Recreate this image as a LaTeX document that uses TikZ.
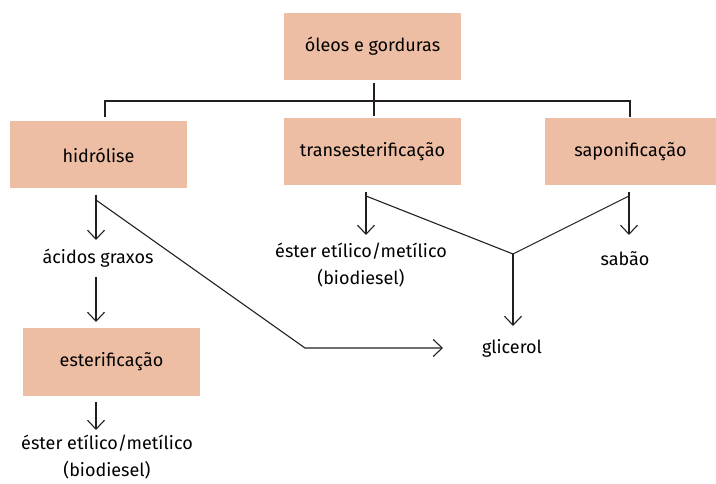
\documentclass[tikz,border=0pt]{standalone}
\usepackage{fontspec}
\setmainfont{Fira Sans}
\usetikzlibrary{arrows.meta}
\definecolor{boxfill}{RGB}{237,190,164}
\definecolor{linecol}{RGB}{35,31,32}
\begin{document}
\begin{tikzpicture}[x=1pt,y=-1pt,
  procbox/.style={fill=boxfill,draw=none,minimum width=177pt,minimum height=67pt,inner sep=0pt,font=\fontsize{18}{22}\selectfont},
  label/.style={inner sep=0pt,align=center,font=\fontsize{18}{27}\selectfont},
  conn/.style={draw=linecol,line width=1.1pt},
  arr/.style={conn,-{Straight Barb[length=9pt,width=17pt,line width=1.1pt]}}]
\useasboundingbox (0,0) rectangle (716,484);
\node[procbox] (oleos) at (372.5,46.5) {óleos e gorduras};
\node[procbox] (hidro) at (98.5,155) {hidrólise};
\node[procbox] (trans) at (372.5,151.5) {transesterificação};
\node[procbox, minimum width=171pt] (sapo) at (630.5,151.5) {saponificação};
\node[procbox] (ester) at (111.5,362) {esterificação};
\node[label] (acidos) at (98,258) {ácidos graxos};
\node[label] (bio1) at (107,457) {éster etílico/metílico\\(biodiesel)};
\node[label] (bio2) at (361,265) {éster etílico/metílico\\(biodiesel)};
\node[label] (sabao) at (625,259) {sabão};
\node[label] (glic) at (512,348) {glicerol};
% top tree
\coordinate (tl) at (105,101);
\coordinate (tr) at (630,101);
\draw[conn] (oleos.south -| 374,0) ++(0,3) -- (374,116);
\draw[conn] (105,117) -- (tl) -- (tr) -- (630,117);
% hidrolise
\coordinate (h0) at (96,195);
\draw[arr] (h0) -- (96,240);
\draw[arr] (96,277) -- (96,322);
\draw[arr] (96,402) -- (96,430);
\coordinate (hd) at (305,348);
\draw[arr] (96,200) -- (hd) -- (443,348);
% transesterificacao
\draw[arr] (366,192) -- (366,235);
\coordinate (j) at (513,254);
\draw[conn] (366,196) -- (j) -- (629,196);
\draw[arr] (j) -- (513,326);
% saponificacao
\draw[arr] (629,192) -- (629,235);
\end{tikzpicture}
\end{document}
